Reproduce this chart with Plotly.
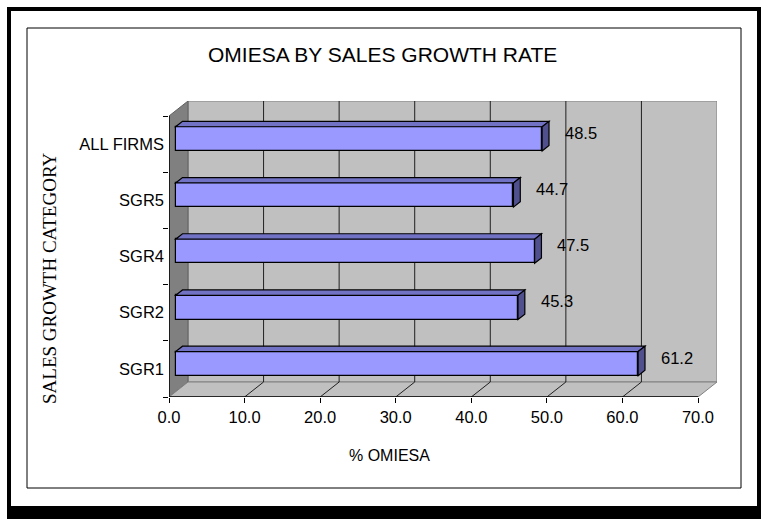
import plotly.graph_objects as go

# ---- data ----
categories = ["SGR1", "SGR2", "SGR4", "SGR5", "ALL FIRMS"]
values = [61.2, 45.3, 47.5, 44.7, 48.5]
x_ticks = [0, 10, 20, 30, 40, 50, 60, 70]
title = "OMIESA BY SALES GROWTH RATE"
x_title = "% OMIESA"
y_title = "SALES GROWTH CATEGORY"

# ---- geometry (pixels) ----
W, H = 761, 519
L, R, T, B = 169, 44, 101, 122
PW, PH = W - L - R, H - T - B
DEPTH_PX_X, DEPTH_PX_Y = 19, 15
XMAX_VAL = 70
xmax = XMAX_VAL / (1 - DEPTH_PX_X / PW)
DX = DEPTH_PX_X * xmax / PW
n = len(categories)
band = (PH - DEPTH_PX_Y) / n
DY = DEPTH_PX_Y / band
ymin, ymax = -0.5, n - 0.5 + DY

F0, F1 = 0.35, 0.71  # bar depth fraction
BW = 0.43
base = F0 * DX
dd = F1 - F0


def px(xp):
    return (xp - L) / PW


def py(yp):
    return (H - B - yp) / PH


FONT = "Liberation Sans, Arial, sans-serif"
SERIF = "Liberation Serif, Times New Roman, serif"

shapes = []
# outer frame
shapes.append(dict(type="rect", xref="paper", yref="paper", x0=px(7), x1=px(W + 2), y0=py(7), y1=py(H + 2),
                   fillcolor="black", line=dict(width=0), layer="below"))
shapes.append(dict(type="rect", xref="paper", yref="paper", x0=px(11), x1=px(757), y0=py(11), y1=py(506),
                   fillcolor="white", line=dict(width=0), layer="below"))
shapes.append(dict(type="rect", xref="paper", yref="paper", x0=px(27), x1=px(741), y0=py(28), y1=py(488),
                   fillcolor="rgba(0,0,0,0)", line=dict(color="black", width=1), layer="below"))

GRAY = "#C0C0C0"
DARK = "#808080"
# back wall
shapes.append(dict(type="rect", xref="x", yref="y", x0=DX, x1=XMAX_VAL + DX, y0=-0.5 + DY, y1=n - 0.5 + DY,
                   fillcolor=GRAY, line=dict(color=DARK, width=1), layer="below"))
# left wall
shapes.append(dict(type="path", xref="x", yref="y",
                   path=f"M0,-0.5 L{DX},{-0.5 + DY} L{DX},{n - 0.5 + DY} L0,{n - 0.5} Z",
                   fillcolor=DARK, line=dict(color="#606060", width=1), layer="below"))
# floor
shapes.append(dict(type="path", xref="x", yref="y",
                   path=f"M0,-0.5 L{XMAX_VAL},-0.5 L{XMAX_VAL + DX},{-0.5 + DY} L{DX},{-0.5 + DY} Z",
                   fillcolor=GRAY, line=dict(color=DARK, width=1), layer="below"))
# gridlines on back wall and floor
for t in x_ticks[1:-1]:
    shapes.append(dict(type="line", xref="x", yref="y", x0=t + DX, x1=t + DX, y0=-0.5 + DY, y1=n - 0.5 + DY,
                       line=dict(color="#202020", width=1), layer="below"))
for t in x_ticks[1:-1]:
    shapes.append(dict(type="line", xref="x", yref="y", x0=t, x1=t + DX, y0=-0.5, y1=-0.5 + DY,
                       line=dict(color="#202020", width=1), layer="below"))
# front axis lines
shapes.append(dict(type="line", xref="x", yref="y", x0=0, x1=XMAX_VAL, y0=-0.5, y1=-0.5,
                   line=dict(color="black", width=1.5), layer="above"))
shapes.append(dict(type="line", xref="x", yref="y", x0=0, x1=0, y0=-0.5, y1=n - 0.5,
                   line=dict(color="black", width=1.5), layer="above"))

# 3D faces of bars
TOP_C = "#7272C4"
SIDE_C = "#50508F"
ypos = [i + F0 * DY for i in range(n)]
for yc, v in zip(ypos, values):
    x0, x1 = base, base + v
    yt, yb = yc + BW / 2, yc - BW / 2
    shapes.append(dict(type="path", xref="x", yref="y",
                       path=f"M{x0},{yt} L{x1},{yt} L{x1 + dd * DX},{yt + dd * DY} L{x0 + dd * DX},{yt + dd * DY} Z",
                       fillcolor=TOP_C, line=dict(color="black", width=1.2), layer="above"))
    shapes.append(dict(type="path", xref="x", yref="y",
                       path=f"M{x1},{yb} L{x1},{yt} L{x1 + dd * DX},{yt + dd * DY} L{x1 + dd * DX},{yb + dd * DY} Z",
                       fillcolor=SIDE_C, line=dict(color="black", width=1.2), layer="above"))

fig = go.Figure()
fig.add_trace(go.Bar(
    x=values, y=ypos, base=[base] * n, orientation="h", width=BW,
    marker=dict(color="#9999FF", line=dict(color="black", width=1.2)),
    hoverinfo="skip", showlegend=False,
))
# dummy trace for category axis
fig.add_trace(go.Scatter(x=[None], y=[None], yaxis="y2", showlegend=False, hoverinfo="skip"))

annotations = []
for i, v in enumerate(values):
    annotations.append(dict(x=v + 6, y=i + 0.2, xref="x", yref="y", text=f"{v:.1f}", showarrow=False,
                            xanchor="center", yanchor="middle", font=dict(family=FONT, size=16.5, color="black")))
annotations.append(dict(x=px(382), y=py(55), xref="paper", yref="paper", text=title, showarrow=False,
                        xanchor="center", yanchor="middle", font=dict(family=FONT, size=21, color="black")))
annotations.append(dict(x=px(389), y=py(455), xref="paper", yref="paper", text=x_title, showarrow=False,
                        xanchor="center", yanchor="middle", font=dict(family=FONT, size=16, color="black")))
annotations.append(dict(x=px(49), y=py(278), xref="paper", yref="paper", text=y_title, showarrow=False,
                        textangle=-90, xanchor="center", yanchor="middle",
                        font=dict(family=SERIF, size=19, color="black")))

fig.update_layout(
    width=W, height=H,
    margin=dict(l=L, r=R, t=T, b=B, pad=0),
    paper_bgcolor="white", plot_bgcolor="rgba(0,0,0,0)",
    showlegend=False,
    xaxis=dict(range=[0, xmax], tickvals=x_ticks, ticktext=[f"{t:.1f}" for t in x_ticks],
               ticks="outside", ticklen=5, tickcolor="black", tickwidth=1,
               showgrid=False, zeroline=False, showline=False,
               tickfont=dict(family=FONT, size=16.5, color="black"), fixedrange=True),
    yaxis=dict(range=[ymin, ymax], tickvals=[i - 0.5 for i in range(n + 1)], showticklabels=False,
               ticks="outside", ticklen=5, tickcolor="black", tickwidth=1,
               showgrid=False, zeroline=False, showline=False, fixedrange=True),
    yaxis2=dict(range=[ymin, ymax], overlaying="y", side="left", anchor="x",
                tickvals=list(range(n)), ticktext=categories, ticks="", ticklabelstandoff=4,
                showgrid=False, zeroline=False, showline=False,
                tickfont=dict(family=FONT, size=16.5, color="black"), fixedrange=True),
    shapes=shapes, annotations=annotations,
    bargap=0,
)

fig.write_html("out.html", config={"displayModeBar": False},
               post_script="document.body.style.margin='0px';document.body.style.overflow='hidden';")
